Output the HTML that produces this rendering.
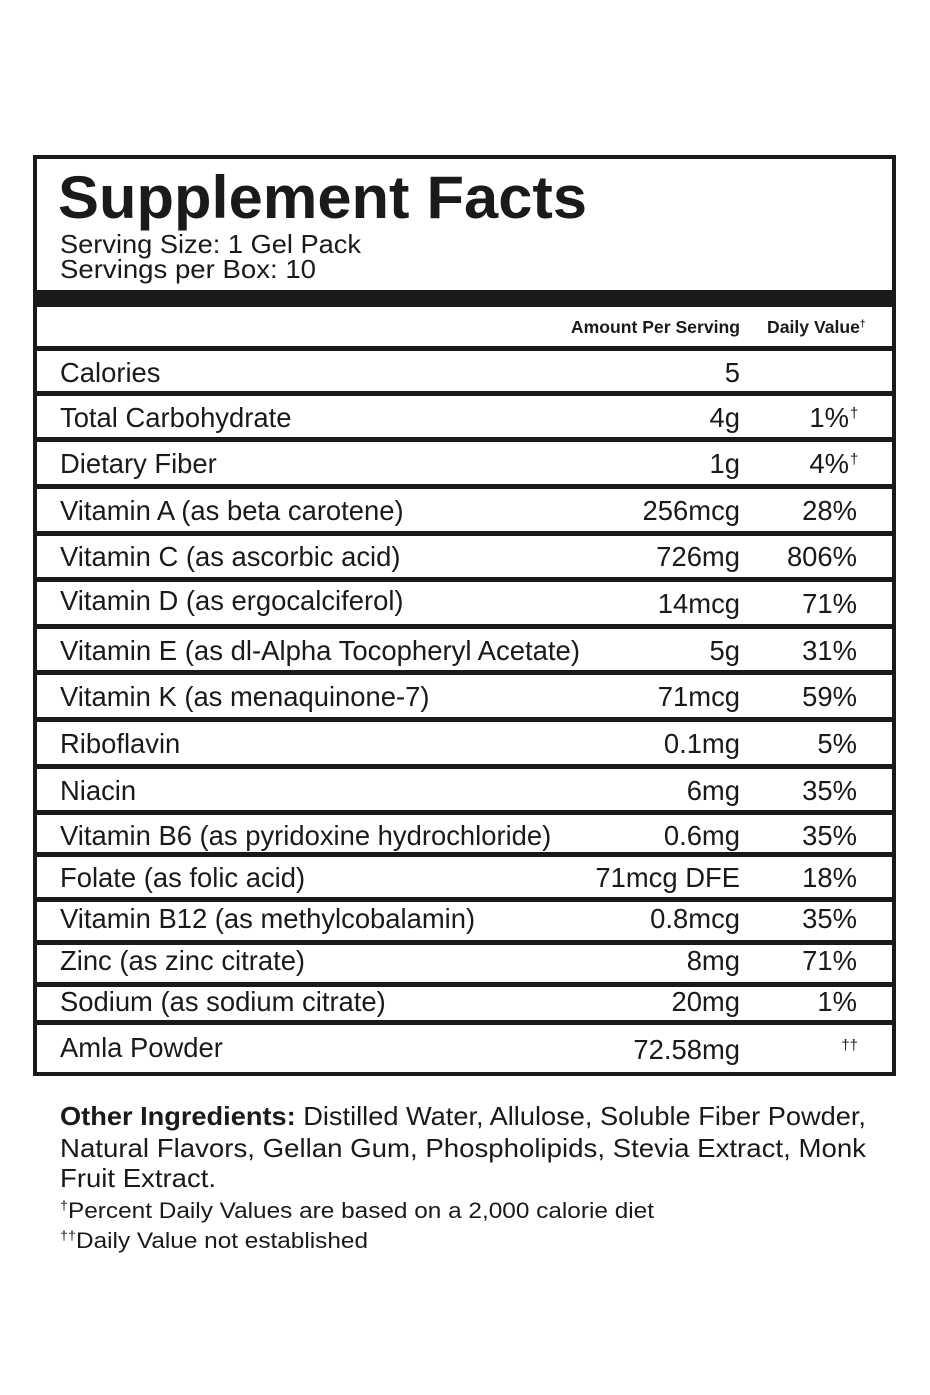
<!DOCTYPE html>
<html><head><meta charset="utf-8"><style>
html,body{margin:0;padding:0;background:#fff;}
svg{display:block;}
text{font-family:"Liberation Sans",Arial,sans-serif;fill:#1a1a1a;}
</style></head><body>
<svg width="930" height="1395" viewBox="0 0 930 1395" xmlns="http://www.w3.org/2000/svg">
<rect x="0" y="0" width="930" height="1395" fill="#fff"/>
<rect x="35" y="157" width="859" height="917" fill="none" stroke="#1a1a1a" stroke-width="4"/>
<rect x="35" y="290" width="859" height="17" fill="#1a1a1a"/>
<g fill="#1a1a1a">
<rect x="35" y="346" width="859" height="5"/>
<rect x="35" y="391" width="859" height="5"/>
<rect x="35" y="437" width="859" height="5"/>
<rect x="35" y="484" width="859" height="5"/>
<rect x="35" y="531" width="859" height="5"/>
<rect x="35" y="577" width="859" height="5"/>
<rect x="35" y="624" width="859" height="5"/>
<rect x="35" y="670" width="859" height="5"/>
<rect x="35" y="717" width="859" height="5"/>
<rect x="35" y="764" width="859" height="5"/>
<rect x="35" y="810" width="859" height="5"/>
<rect x="35" y="852" width="859" height="5"/>
<rect x="35" y="897" width="859" height="5"/>
<rect x="35" y="940" width="859" height="5"/>
<rect x="35" y="982" width="859" height="5"/>
<rect x="35" y="1020" width="859" height="5"/>
</g>
<text x="58" y="218" font-size="60" font-weight="bold" textLength="529" lengthAdjust="spacingAndGlyphs">Supplement Facts</text>
<text x="60" y="253" font-size="26" textLength="301" lengthAdjust="spacingAndGlyphs">Serving Size: 1 Gel Pack</text>
<text x="60" y="278" font-size="26" textLength="256" lengthAdjust="spacingAndGlyphs">Servings per Box: 10</text>
<text x="740" y="333" font-size="17.6" font-weight="bold" text-anchor="end">Amount Per Serving</text>
<text x="767" y="333" font-size="17.6" font-weight="bold">Daily Value<tspan font-size="10" dy="-6">†</tspan></text>
<g font-size="27.4">
<text x="60" y="382">Calories</text><text x="740" y="382" text-anchor="end">5</text>
<text x="60" y="427">Total Carbohydrate</text><text x="740" y="427" text-anchor="end">4g</text><text x="849" y="427" text-anchor="end">1%</text><text x="850" y="418" font-size="15">†</text>
<text x="60" y="473">Dietary Fiber</text><text x="740" y="473" text-anchor="end">1g</text><text x="849" y="473" text-anchor="end">4%</text><text x="850" y="464" font-size="15">†</text>
<text x="60" y="520">Vitamin A (as beta carotene)</text><text x="740" y="520" text-anchor="end">256mcg</text><text x="857" y="520" text-anchor="end">28%</text>
<text x="60" y="566">Vitamin C (as ascorbic acid)</text><text x="740" y="566" text-anchor="end">726mg</text><text x="857" y="566" text-anchor="end">806%</text>
<text x="60" y="610">Vitamin D (as ergocalciferol)</text><text x="740" y="613" text-anchor="end">14mcg</text><text x="857" y="613" text-anchor="end">71%</text>
<text x="60" y="660" textLength="520" lengthAdjust="spacingAndGlyphs">Vitamin E (as dl-Alpha Tocopheryl Acetate)</text><text x="740" y="660" text-anchor="end">5g</text><text x="857" y="660" text-anchor="end">31%</text>
<text x="60" y="706">Vitamin K (as menaquinone-7)</text><text x="740" y="706" text-anchor="end">71mcg</text><text x="857" y="706" text-anchor="end">59%</text>
<text x="60" y="753">Riboflavin</text><text x="740" y="753" text-anchor="end">0.1mg</text><text x="857" y="753" text-anchor="end">5%</text>
<text x="60" y="800">Niacin</text><text x="740" y="800" text-anchor="end">6mg</text><text x="857" y="800" text-anchor="end">35%</text>
<text x="60" y="845">Vitamin B6 (as pyridoxine hydrochloride)</text><text x="740" y="845" text-anchor="end">0.6mg</text><text x="857" y="845" text-anchor="end">35%</text>
<text x="60" y="887">Folate (as folic acid)</text><text x="740" y="887" text-anchor="end">71mcg DFE</text><text x="857" y="887" text-anchor="end">18%</text>
<text x="60" y="928">Vitamin B12 (as methylcobalamin)</text><text x="740" y="928" text-anchor="end">0.8mcg</text><text x="857" y="928" text-anchor="end">35%</text>
<text x="60" y="970">Zinc (as zinc citrate)</text><text x="740" y="970" text-anchor="end">8mg</text><text x="857" y="970" text-anchor="end">71%</text>
<text x="60" y="1011">Sodium (as sodium citrate)</text><text x="740" y="1011" text-anchor="end">20mg</text><text x="857" y="1011" text-anchor="end">1%</text>
<text x="60" y="1057">Amla Powder</text><text x="740" y="1059" text-anchor="end">72.58mg</text><text x="858" y="1050" font-size="15" text-anchor="end">††</text>
</g>
<text x="60" y="1125" font-size="26" textLength="806" lengthAdjust="spacingAndGlyphs"><tspan font-weight="bold">Other Ingredients:</tspan> Distilled Water, Allulose, Soluble Fiber Powder,</text>
<text x="60" y="1157" font-size="26" textLength="806" lengthAdjust="spacingAndGlyphs">Natural Flavors, Gellan Gum, Phospholipids, Stevia Extract, Monk</text>
<text x="60" y="1187" font-size="26" textLength="156" lengthAdjust="spacingAndGlyphs">Fruit Extract.</text>
<text x="60" y="1218" font-size="22" textLength="594" lengthAdjust="spacingAndGlyphs"><tspan font-size="13" dy="-8">†</tspan><tspan dy="8">Percent Daily Values are based on a 2,000 calorie diet</tspan></text>
<text x="60" y="1248" font-size="22" textLength="308" lengthAdjust="spacingAndGlyphs"><tspan font-size="13" dy="-8">††</tspan><tspan dy="8">Daily Value not established</tspan></text>
</svg>
</body></html>
